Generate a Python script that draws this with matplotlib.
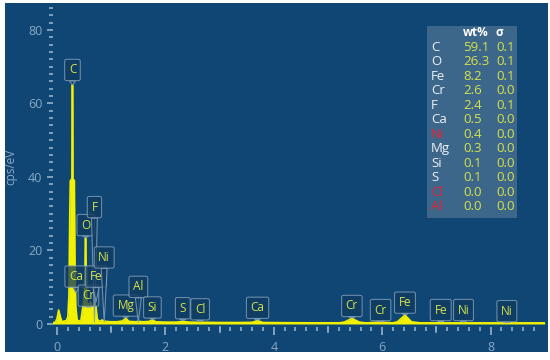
import matplotlib
matplotlib.use('Agg')
import matplotlib.pyplot as plt
from matplotlib.patches import Rectangle
from matplotlib.ticker import MultipleLocator, FixedLocator
import numpy as np

plt.rcParams['font.family'] = ['Open Sans', 'DejaVu Sans']

# Spectrum outline (keV, cps/eV).
energy = [-0.09, -0.03, 0.0, 0.03, 0.06, 0.09, 0.13, 0.17, 0.20, 0.22, 0.235, 0.245,
          0.275, 0.278, 0.29, 0.293, 0.32, 0.33, 0.345, 0.37, 0.40, 0.44, 0.46, 0.48,
          0.50, 0.515, 0.522, 0.53, 0.537, 0.55, 0.57, 0.59, 0.62, 0.645, 0.66, 0.68,
          0.70, 0.72, 0.74, 0.77, 0.80, 0.83, 0.86, 0.90, 1.0, 1.1, 1.2, 1.27, 1.33,
          1.45, 1.5, 1.6, 1.7, 1.76, 1.82, 2.0, 2.2, 2.32, 2.45, 2.7, 3.0, 3.4, 3.6,
          3.7, 3.8, 4.2, 4.8, 5.2, 5.3, 5.44, 5.58, 5.7, 5.96, 6.2, 6.28, 6.42, 6.54,
          6.7, 7.0, 7.07, 7.15, 7.5, 8.0, 8.5, 9.0]
counts = [0.3, 0.5, 1.5, 3.8, 2.0, 0.6, 0.8, 0.9, 2.0, 8.0, 30.0, 39.0,
          39.5, 65.0, 65.0, 39.5, 39.0, 18.0, 5.0, 1.2, 0.8, 1.0, 3.0, 5.0,
          7.5, 14.0, 23.4, 23.4, 14.0, 6.0, 3.4, 5.5, 6.0, 5.0, 3.0, 5.2,
          5.8, 4.5, 1.5, 0.8, 0.8, 1.1, 0.8, 0.7, 0.6, 0.6, 0.8, 1.5, 0.7,
          0.6, 0.7, 0.6, 0.7, 1.1, 0.6, 0.5, 0.5, 0.7, 0.5, 0.45, 0.4, 0.4, 0.45,
          0.9, 0.4, 0.35, 0.3, 0.3, 0.5, 1.5, 0.5, 0.3, 0.5, 0.3, 0.6, 2.4, 0.6,
          0.3, 0.3, 0.5, 0.3, 0.3, 0.25, 0.25, 0.25]

# Peak markers: name, line energy (keV), box centre (cps/eV), pointer tip (cps/eV)
markerNames = ['C', 'Ca', 'Cr', 'O', 'F', 'Fe', 'Ni', 'Mg', 'Al', 'Si', 'S', 'Cl', 'Ca',
               'Cr', 'Cr', 'Fe', 'Fe', 'Ni', 'Ni']
markerEnergy = [0.285, 0.35, 0.58, 0.53, 0.69, 0.72, 0.87, 1.27, 1.50, 1.76, 2.32, 2.64, 3.70,
                5.44, 5.97, 6.42, 7.08, 7.50, 8.30]
markerBoxY = [69.1, 12.9, 7.7, 26.9, 31.8, 12.9, 18.1, 5.0, 10.1, 4.5, 4.3, 4.0, 4.4,
              4.9, 3.8, 5.8, 3.8, 3.8, 3.5]
markerTipY = [65.0, 8.5, 4.6, 23.5, 0.5, 6.0, 0.5, 1.8, 0.5, 1.3, 0.9, 0.6, 1.1,
              1.7, 0.6, 2.6, 0.6, 0.5, 0.4]

# Quantification table
tableElements = ['C', 'O', 'Fe', 'Cr', 'F', 'Ca', 'Ni', 'Mg', 'Si', 'S', 'Cl', 'Al']
tableWt = ['59.1', '26.3', '8.2', '2.6', '2.4', '0.5', '0.4', '0.3', '0.1', '0.1', '0.0', '0.0']
tableSigma = ['0.1', '0.1', '0.1', '0.0', '0.1', '0.0', '0.0', '0.0', '0.0', '0.0', '0.0', '0.0']
redElements = ['Ni', 'Cl', 'Al']

panelColor = '#0f4674'
axisColor = '#8aa9c4'
specColor = '#f2f200'
labelColor = '#d6e34a'

W, H = 550.0, 360.0

fig = plt.figure(figsize=(5.5, 3.6), dpi=100)
fig.patch.set_facecolor('white')
fig.patches.append(Rectangle((5 / W, 1 - 352 / H), 543 / W, 349 / H, transform=fig.transFigure,
                             facecolor=panelColor, edgecolor='none', zorder=-5))

ax = fig.add_axes([52.7 / W, 33 / H, 492.1 / W, 321 / H])
ax.set_facecolor('none')
ax.set_zorder(1)
ax.set_xlim(-0.08, 9.0)
ax.set_ylim(-0.82, 86.5)
for s in ax.spines.values():
    s.set_visible(False)

# Spectrum
ax.fill_between(energy, 0, counts, color=specColor, linewidth=0, zorder=2)
ax.plot(energy, counts, color=specColor, linewidth=1.2, zorder=2)
ax.plot([-0.08, 9.0], [0.2, 0.2], color=specColor, linewidth=1.2, zorder=2)

# Ticks
ax.set_yticks(np.arange(0, 81, 20))
ax.yaxis.set_minor_locator(MultipleLocator(2))
ax.xaxis.set_major_locator(FixedLocator([0, 2, 4, 6, 8]))
ax.xaxis.set_minor_locator(FixedLocator(np.round(np.arange(0, 8.9, 0.2), 1)))
ax.tick_params(axis='both', which='major', colors=axisColor, labelcolor=axisColor, labelsize=9,
               width=1.3, direction='out')
ax.tick_params(axis='y', which='major', length=4.5, pad=3)
ax.tick_params(axis='y', which='minor', length=3, width=1.3, color=axisColor)
ax.tick_params(axis='x', which='major', length=6, pad=4)
ax.tick_params(axis='x', which='minor', length=3, width=1.3, color=axisColor)
for xo in [1, 3, 5, 7]:
    ax.plot([xo, xo], [-0.82, -2.3], color=axisColor, linewidth=1.3, clip_on=False, zorder=1)
ax.set_ylabel('cps/eV', color=axisColor, fontsize=8.5)
ax.yaxis.set_label_coords(-0.072, 0.5)

# Peak markers
for name, e, by, ty in zip(markerNames, markerEnergy, markerBoxY, markerTipY):
    ax.annotate(name, xy=(e, ty), xytext=(e, by), ha='center', va='center', fontsize=8.5,
                color=labelColor, zorder=5,
                bbox=dict(boxstyle='round,pad=0.35,rounding_size=0.15', facecolor='#113a5f',
                          edgecolor='#86a3bd', linewidth=0.8, alpha=0.75),
                arrowprops=dict(arrowstyle='wedge,tail_width=0.5,shrink_factor=0.5',
                                facecolor='#113a5f', edgecolor='#86a3bd', linewidth=0.8,
                                alpha=0.8, shrinkA=0, shrinkB=0))

# Quantification table
def fx(px):
    return px / W

def fy(py):
    return 1 - py / H

fig.patches.append(Rectangle((fx(427), fy(218)), 90 / W, 192 / H, transform=fig.transFigure,
                             facecolor='#4d7194', edgecolor='none', alpha=0.75, zorder=3))
fig.text(fx(463), fy(32.7), 'wt%', color='white', fontsize=8.5, fontweight='bold', va='center', zorder=4)
fig.text(fx(496), fy(32.7), 'σ', color='white', fontsize=8.5, fontweight='bold', va='center', zorder=4)
for i, (el, wt, sg) in enumerate(zip(tableElements, tableWt, tableSigma)):
    rowY = fy(47.3 + i * 14.5)
    elColor = '#ee2233' if el in redElements else '#eef2f6'
    fig.text(fx(431), rowY, el, color=elColor, fontsize=9.5, va='center', zorder=4)
    fig.text(fx(463), rowY, wt, color=labelColor, fontsize=9.5, va='center', zorder=4)
    fig.text(fx(496), rowY, sg, color=labelColor, fontsize=9.5, va='center', zorder=4)

plt.savefig('out.png', dpi=100)
